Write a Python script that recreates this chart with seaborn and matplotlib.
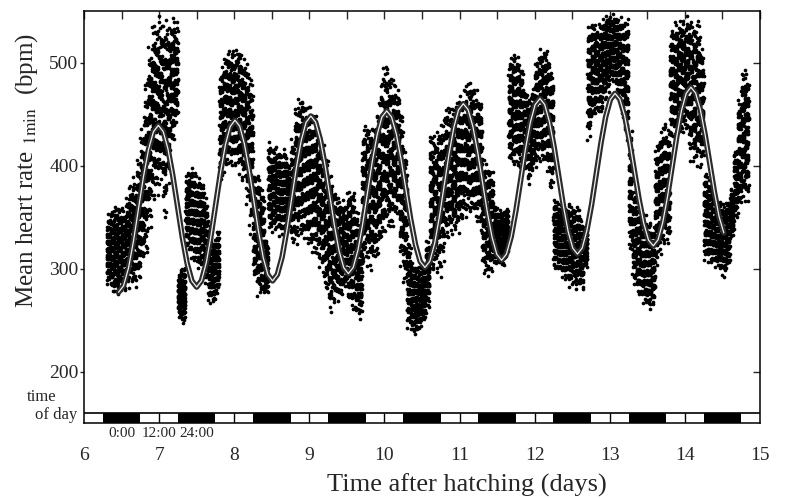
import numpy as np
import pandas as pd
import matplotlib
matplotlib.use("Agg")
import matplotlib.pyplot as plt
from matplotlib.patches import Rectangle
import seaborn as sns

bin_lo = [
    285, 275, 272, 270, 275, 280, 282, 280, 285, 300, 310, 340, 360, 370,
    380, 340, 380, 420, 440, 250, 245, 320, 310, 305, 300, 300, 285, 265, 265, 275, 380, 390, 395, 400,
    395, 390, 380, 360, 330, 285, 270, 270, 275, 335, 335, 335, 330, 335, 340, 320, 320, 330, 325, 320,
    315, 310, 300, 290, 270, 255, 260, 265, 270, 280, 265, 260, 255, 250, 300, 300, 295, 300, 310, 320,
    330, 330, 340, 345, 300, 280, 240, 235, 235, 240, 245, 260, 290, 290, 290, 300, 320, 330, 330, 330,
    340, 345, 350, 345, 340, 335, 290, 290, 295, 300, 305, 300, 310, 400, 400, 395, 393, 393, 380, 390,
    395, 400, 395, 390, 370, 300, 295, 290, 285, 280, 280, 277, 275, 300, 420, 440, 450, 445, 460, 470,
    480, 475, 460, 440, 420, 310, 280, 270, 265, 262, 258, 260, 300, 310, 315, 320, 420, 425, 425, 430,
    430, 400, 395, 395, 390, 305, 303, 300, 298, 295, 290, 300, 330, 345, 350, 355, 360,
]
bin_hi = [
    355, 360, 362, 365, 360, 370, 385, 390, 410, 440, 490, 520, 545, 549,
    548, 545, 545, 545, 540, 300, 305, 395, 400, 395, 390, 385, 370, 345, 330, 340, 500, 510, 515, 518,
    515, 518, 510, 500, 490, 400, 395, 380, 330, 425, 420, 420, 415, 420, 405, 430, 465, 470, 470, 465,
    460, 455, 440, 430, 420, 400, 385, 375, 370, 365, 380, 380, 360, 330, 445, 445, 445, 450, 470, 500,
    505, 500, 490, 480, 460, 420, 330, 310, 305, 305, 310, 330, 440, 440, 442, 450, 460, 465, 468, 470,
    475, 485, 487, 485, 480, 470, 410, 405, 400, 365, 360, 360, 360, 510, 513, 510, 500, 480, 470, 480,
    510, 520, 520, 518, 500, 370, 365, 365, 365, 368, 367, 365, 350, 340, 540, 545, 540, 545, 548, 549,
    549, 549, 549, 549, 549, 440, 385, 370, 360, 355, 350, 345, 430, 440, 452, 440, 540, 545, 545, 548,
    549, 549, 549, 549, 520, 400, 390, 380, 370, 370, 365, 370, 380, 420, 470, 505, 500,
]
bin_start = 6.30 + 0.05 * np.arange(len(bin_lo))
pts_per_bin = 90

# fitted cosinor curve
fit_t = [
    6.46, 6.526, 6.593, 6.659, 6.725, 6.791, 6.858, 6.924, 6.99,
    7.054, 7.118, 7.181, 7.245, 7.309, 7.373, 7.436, 7.50,
    7.564, 7.628, 7.691, 7.755, 7.819, 7.883, 7.946, 8.01,
    8.073, 8.135, 8.198, 8.26, 8.323, 8.385, 8.448, 8.51,
    8.574, 8.638, 8.701, 8.765, 8.829, 8.893, 8.956, 9.02,
    9.083, 9.145, 9.208, 9.27, 9.333, 9.395, 9.458, 9.52,
    9.584, 9.648, 9.711, 9.775, 9.839, 9.903, 9.966, 10.03,
    10.094, 10.158, 10.221, 10.285, 10.349, 10.413, 10.476, 10.54,
    10.604, 10.668, 10.731, 10.795, 10.859, 10.923, 10.986, 11.05,
    11.114, 11.178, 11.241, 11.305, 11.369, 11.433, 11.496, 11.56,
    11.624, 11.688, 11.751, 11.815, 11.879, 11.943, 12.006, 12.07,
    12.133, 12.195, 12.258, 12.32, 12.383, 12.445, 12.508, 12.57,
    12.633, 12.695, 12.758, 12.82, 12.883, 12.945, 13.008, 13.07,
    13.134, 13.198, 13.261, 13.325, 13.389, 13.453, 13.516, 13.58,
    13.643, 13.705, 13.768, 13.83, 13.893, 13.955, 14.018, 14.08,
    14.143, 14.205, 14.268, 14.33, 14.393, 14.455, 14.518,
]
fit_y = [
    277, 283.2, 300.7, 327.0, 358, 389.0, 415.3, 432.8, 439,
    433.0, 416.0, 390.6, 360.5, 330.4, 305.0, 288.0, 282,
    288.2, 305.7, 332.0, 363, 394.0, 420.3, 437.8, 444,
    438.1, 421.1, 395.9, 366, 336.1, 310.9, 293.9, 288,
    294.1, 311.4, 337.4, 368, 398.6, 424.6, 441.9, 448,
    442.2, 425.6, 400.8, 371.5, 342.2, 317.4, 300.8, 295,
    301.0, 318.1, 343.7, 374, 404.3, 429.9, 447.0, 453,
    447.2, 430.7, 406.1, 377, 347.9, 323.3, 306.8, 301,
    307.0, 324.3, 350.1, 380.5, 410.9, 436.7, 454.0, 460,
    454.2, 437.7, 413.1, 384, 354.9, 330.3, 313.8, 308,
    314.0, 331.0, 356.4, 386.5, 416.6, 442.0, 459.0, 465,
    459.3, 442.9, 418.4, 389.5, 360.6, 336.1, 319.7, 314,
    319.9, 336.9, 362.1, 392, 421.9, 447.1, 464.1, 470,
    464.4, 448.3, 424.3, 396, 367.7, 343.7, 327.6, 322,
    327.9, 344.6, 369.5, 399, 428.5, 453.4, 470.1, 476,
    470.4, 454.5, 430.6, 402.5, 374.4, 350.5, 334.6,
]

night_start = [6.25, 7.25, 8.25, 9.25, 10.25, 11.25, 12.25, 13.25, 14.25]
day_marks = [7, 8, 9, 10, 11, 12, 13, 14]
clock_labels = ["0:00", "12:00", "24:00"]
clock_pos = [6.5, 7.0, 7.5]

sns.set_style("ticks")
plt.rcParams["font.family"] = ["Liberation Serif", "DejaVu Serif"]
plt.rcParams["mathtext.fontset"] = "stix"

# spread each bin's readings between its envelope (fixed low-discrepancy layout)
rows = []
for i, (lo, hi) in enumerate(zip(bin_lo, bin_hi)):
    for j in range(pts_per_bin):
        a = (j * 0.6180340 + i * 0.311) % 1
        b = (j * 0.7548777 + i * 0.173) % 1
        c = (j * 0.5698403 + i * 0.419) % 1
        rows.append((bin_start[i] + 0.05 * a, lo + (hi - lo) * (0.7 * b + 0.3 * c)))
cloud = pd.DataFrame(rows, columns=["day", "bpm"])

fig = plt.figure(figsize=(7.86, 4.98), dpi=100)
ax = fig.add_axes([0.1069, 0.1506, 0.86, 0.8273])

sns.scatterplot(data=cloud, x="day", y="bpm", s=7, color="black", linewidth=0,
                legend=False, ax=ax, zorder=2)
sns.lineplot(x=fit_t, y=fit_y, sort=False, estimator=None, color="#2b2b2b",
             lw=4, ax=ax, zorder=3)
sns.lineplot(x=fit_t, y=fit_y, sort=False, estimator=None, color="#f0f0f0",
             lw=0.9, ax=ax, zorder=4)

# light/dark bar
for s in night_start:
    ax.add_patch(Rectangle((s, 150), 0.5, 10, color="black", lw=0, zorder=5))
ax.vlines(day_marks, 150, 160, color="black", lw=1, zorder=5)
ax.axhline(160, color="black", lw=1.2, zorder=5)

ax.set_xlim(6, 15)
ax.set_ylim(150, 550)
ax.set_xticks(range(6, 16))
ax.set_xticks(np.arange(6, 15.01, 0.5), minor=True)
ax.set_yticks([200, 300, 400, 500])
ax.tick_params(axis="x", which="both", top=True, bottom=False, direction="in",
               length=6, width=1, labelsize=14, pad=17)
ax.tick_params(axis="y", direction="out", length=3, width=1, labelsize=14, pad=1)
right = ax.secondary_yaxis("right")
right.set_yticks([200, 300, 400, 500])
right.tick_params(direction="in", length=5, width=1, labelright=False)
for sp in ax.spines.values():
    sp.set_linewidth(1.1)
    sp.set_color("black")
right.spines["right"].set_visible(False)

for lab, x in zip(clock_labels, clock_pos):
    ax.text(x, -0.026, lab, transform=ax.get_xaxis_transform(), ha="center",
            va="center", fontsize=11)
fig.text(0.053, 0.203, "time", ha="center", va="center", fontsize=12)
fig.text(0.071, 0.167, "of day", ha="center", va="center", fontsize=12)

ax.set_xlabel("Time after hatching (days)", fontsize=19)
ax.xaxis.set_label_coords(0.566, -0.122)
ax.set_ylabel(r"Mean heart rate $_{\mathrm{1min}}$  (bpm)", fontsize=18)
ax.yaxis.set_label_coords(-0.065, 0.614)

fig.savefig("out.png", dpi=100)
